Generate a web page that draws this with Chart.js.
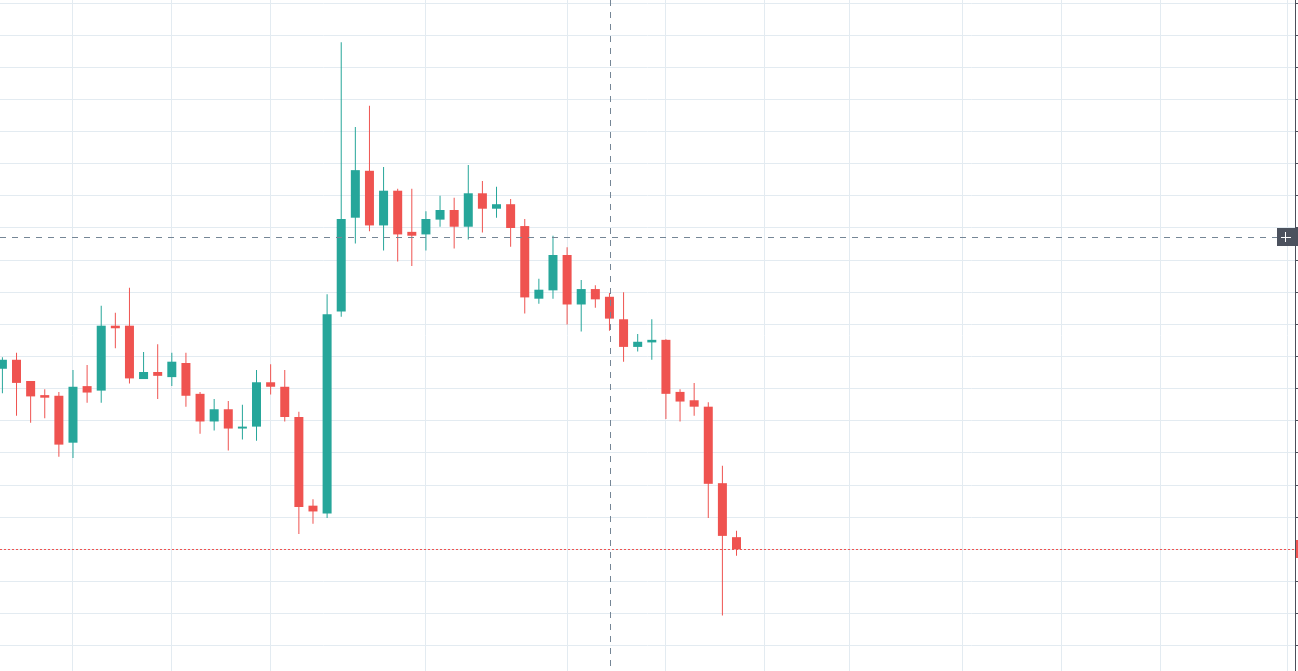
<!DOCTYPE html>
<html>
<head>
<meta charset="utf-8">
<title>Candles</title>
<script src="https://cdn.jsdelivr.net/npm/chart.js@4.4.1/dist/chart.umd.min.js"></script>
<style>
  html, body { margin: 0; padding: 0; background: #fff; overflow: hidden; }
  #candles { display: block; }
</style>
</head>
<body>
<canvas id="candles" width="1298" height="671"></canvas>
<script>
// OHLC, one entry per bar
const opens  = [22.31, 22.45, 22.12, 21.90, 21.89, 21.16, 22.04, 21.97, 22.98, 22.98, 22.15, 22.26, 22.18, 22.40, 21.92, 21.49, 21.68, 21.38, 21.41, 22.10, 22.03, 21.56, 20.18, 20.06, 23.20, 24.66, 25.39, 24.54, 25.08, 24.44, 24.40, 24.63, 24.78, 24.52, 25.04, 24.80, 24.87, 24.53, 23.40, 23.53, 24.08, 23.31, 23.55, 23.43, 23.08, 22.65, 22.72, 22.76, 21.95, 21.82, 21.72, 20.53, 19.69];
const highs  = [22.49, 22.56, 22.12, 21.99, 21.95, 22.29, 22.37, 23.29, 23.18, 23.57, 22.57, 22.69, 22.56, 22.56, 21.95, 21.84, 21.81, 21.75, 22.29, 22.38, 22.29, 21.64, 20.28, 23.47, 27.39, 26.07, 26.40, 25.45, 25.11, 25.11, 24.76, 25.00, 24.97, 25.48, 25.23, 25.14, 24.95, 24.64, 23.71, 24.38, 24.20, 23.69, 23.61, 23.49, 23.50, 22.85, 23.08, 22.77, 21.99, 22.09, 21.79, 20.80, 19.79];
const lows   = [21.93, 21.58, 21.47, 21.54, 20.94, 20.92, 21.78, 21.78, 22.63, 22.08, 22.15, 21.84, 22.04, 21.72, 21.30, 21.35, 21.04, 21.21, 21.19, 21.91, 21.49, 19.74, 19.90, 19.99, 23.12, 24.26, 24.45, 24.15, 23.98, 23.91, 24.15, 24.52, 24.18, 24.32, 24.43, 24.66, 24.21, 23.17, 23.32, 23.40, 23.00, 22.89, 23.26, 22.90, 22.42, 22.58, 22.45, 21.53, 21.49, 21.58, 19.99, 18.47, 19.40];
const closes = [22.45, 22.09, 21.88, 21.86, 21.13, 22.03, 21.94, 22.98, 22.94, 22.16, 22.26, 22.20, 22.42, 21.89, 21.49, 21.68, 21.38, 21.41, 22.10, 22.03, 21.56, 20.16, 20.09, 23.16, 24.64, 25.40, 24.54, 25.08, 24.40, 24.38, 24.64, 24.78, 24.52, 25.04, 24.80, 24.87, 24.50, 23.42, 23.54, 24.08, 23.31, 23.55, 23.39, 23.09, 22.65, 22.73, 22.76, 21.92, 21.80, 21.72, 20.52, 19.71, 19.50];

// bar indexes where the time grid lines fall
const timeGridIndex = [5, 12, 19, 30, 40, 47, 54, 60, 68, 75, 82, 91];

// crosshair position (bar index, price)
const crossIndex = 43;
const crossPrice = 24.36;

const upColor = '#26a69a';
const downColor = '#ef5350';
const gridColor = '#e3ebf1';
const crossColor = '#758696';
const labelBg = '#4c525e';

const candleColors = closes.map((c, i) => c >= opens[i] ? upColor : downColor);
const bodyData = opens.map((o, i) => ({ x: i, y: [o, closes[i]] }));
const wickData = highs.map((h, i) => ({ x: i, y: [lows[i], h] }));

// price line, crosshair and the little boxes on the price scale
const overlay = {
  id: 'overlay',
  beforeDatasetsDraw(chart) {
    const { ctx, chartArea, scales } = chart;
    const last = closes.length - 1;
    const y = Math.round(scales.y.getPixelForValue(closes[last])) + 0.5;
    ctx.save();
    ctx.strokeStyle = candleColors[last];
    ctx.lineWidth = 1;
    ctx.setLineDash([2, 2]);
    ctx.beginPath();
    ctx.moveTo(chartArea.left, y);
    ctx.lineTo(chartArea.right, y);
    ctx.stroke();
    ctx.restore();
  },
  afterDatasetsDraw(chart) {
    const { ctx, chartArea, scales } = chart;
    const x = Math.floor(scales.x.getPixelForValue(crossIndex)) + 1.5;
    const y = Math.round(scales.y.getPixelForValue(crossPrice)) + 0.5;
    const right = chartArea.right;
    ctx.save();
    ctx.strokeStyle = crossColor;
    ctx.lineWidth = 1;
    ctx.setLineDash([6, 6]);
    ctx.beginPath();
    ctx.moveTo(x, chartArea.top);
    ctx.lineTo(x, chartArea.bottom);
    ctx.moveTo(chartArea.left, y);
    ctx.lineTo(right - 18, y);
    ctx.stroke();
    ctx.setLineDash([]);

    // "+" button
    const by = Math.round(y - 9.5);
    ctx.fillStyle = labelBg;
    ctx.fillRect(right - 18, by, 18, 18);
    ctx.strokeStyle = '#ffffff';
    ctx.beginPath();
    ctx.moveTo(right - 14, by + 9.5);
    ctx.lineTo(right - 4, by + 9.5);
    ctx.moveTo(right - 9.5, by + 4);
    ctx.lineTo(right - 9.5, by + 14);
    ctx.stroke();

    // clipped price labels on the axis
    ctx.fillRect(right, by, 3, 18);
    const last = closes.length - 1;
    const ly = Math.round(scales.y.getPixelForValue(closes[last]) - 9);
    ctx.fillStyle = candleColors[last];
    ctx.fillRect(right + 1, ly, 2, 18);
    ctx.restore();
  }
};

new Chart(document.getElementById('candles'), {
  type: 'bar',
  data: {
    datasets: [
      {
        label: 'body',
        data: bodyData,
        backgroundColor: candleColors,
        barThickness: 9,
        grouped: false,
        borderWidth: 0,
        inflateAmount: 0,
        minBarLength: 1
      },
      {
        label: 'wick',
        data: wickData,
        backgroundColor: candleColors,
        barThickness: 1,
        grouped: false,
        borderWidth: 0,
        inflateAmount: 0
      }
    ]
  },
  options: {
    responsive: false,
    animation: false,
    devicePixelRatio: 1,
    layout: { padding: 0 },
    plugins: {
      legend: { display: false },
      tooltip: { enabled: false }
    },
    events: [],
    scales: {
      x: {
        type: 'linear',
        min: -0.17,
        max: 91.56,
        offset: false,
        grid: { color: gridColor, offset: false, drawTicks: false },
        border: { display: false },
        ticks: { display: false },
        afterBuildTicks: s => { s.ticks = timeGridIndex.map(v => ({ value: v })); },
        afterFit: s => { s.height = 0; }
      },
      y: {
        type: 'linear',
        position: 'right',
        min: 17.608,
        max: 28.047,
        beginAtZero: false,
        grid: { color: gridColor, tickLength: 3, tickColor: '#4c4f5a' },
        border: { display: true, color: '#4c4f5a', width: 1 },
        ticks: { display: false, stepSize: 0.5, includeBounds: false },
        afterFit: s => { s.width = 3; }
      }
    }
  },
  plugins: [overlay]
});
</script>
</body>
</html>
